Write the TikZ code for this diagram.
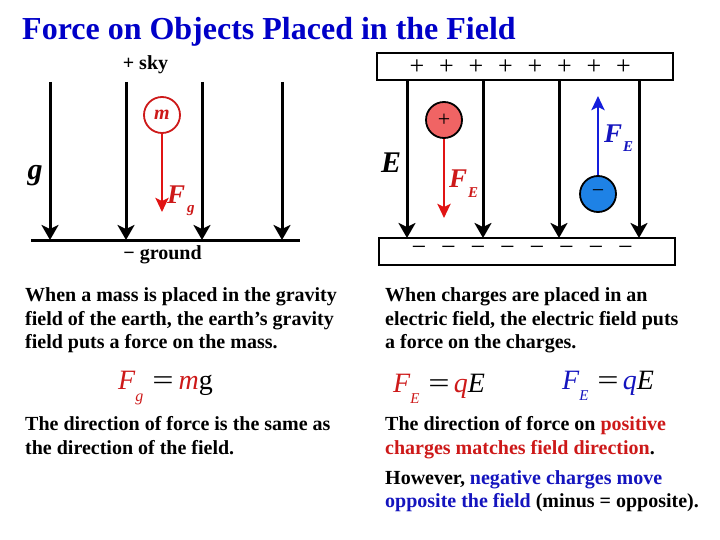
\documentclass[tikz,border=0pt]{standalone}
\usepackage{fontspec}
\usepackage{graphicx}
\setmainfont{Liberation Serif}
\usetikzlibrary{arrows.meta}
\definecolor{titleblue}{RGB}{0,0,200}
\definecolor{fred}{RGB}{205,25,25}
\definecolor{fblue}{RGB}{20,20,190}
\definecolor{posfill}{RGB}{240,100,100}
\definecolor{negfill}{RGB}{30,130,230}
\definecolor{arrred}{RGB}{225,20,20}
\definecolor{arrblue}{RGB}{20,30,220}
\newcommand{\bigeq}{\scalebox{1.35}[1.0]{=}}
\tikzset{
  txt/.style={anchor=base west, inner sep=0pt, font=\fontsize{20}{23}\selectfont\bfseries},
  fieldline/.style={line width=3pt, -{Stealth[length=15pt,width=17pt,inset=4pt]}},
  redforce/.style={line width=2.8pt, draw=arrred, -{Stealth[length=14pt,width=13pt,inset=3pt]}},
  blueforce/.style={line width=2.8pt, draw=arrblue, -{Stealth[length=14pt,width=13pt,inset=3pt]}},
  plate/.style={draw, line width=2pt, fill=white, minimum width=296pt, minimum height=27pt, inner sep=0pt},
  charge/.style={circle, draw, line width=1.8pt, minimum size=36pt, inner sep=0pt},
  sign/.style={inner sep=0pt, font=\fontsize{26}{28}\selectfont},
  formula/.style={anchor=base west, inner sep=0pt, font=\fontsize{28}{30}\selectfont},
}
\begin{document}
\begin{tikzpicture}[x=1pt,y=-1pt]
\useasboundingbox (0,0) rectangle (720,540);

% title
\node[anchor=base west, inner sep=0pt, text=titleblue, font=\fontsize{32}{36}\selectfont\bfseries] (title) at (22,40) {Force on Objects Placed in the Field};

% ---------- gravity diagram ----------
\node[anchor=base, inner sep=0pt, font=\fontsize{20}{22}\selectfont\bfseries] (sky) at (145.5,70) {+ sky};
\node[anchor=base, inner sep=0pt, font=\fontsize{20}{22}\selectfont\bfseries] (ground) at (162.5,259) {− ground};
\coordinate (gl) at (31,240);
\coordinate (gr) at (300,240);
\draw[line width=3pt] (gl) -- (gr);
\foreach \x [count=\i] in {50,126,202,282}{
  \coordinate (gt\i) at (\x,82);
  \coordinate (gb\i) at (\x,240);
  \draw[fieldline] (gt\i) -- (gb\i);
}
\node[inner sep=0pt, font=\fontsize{30}{32}\selectfont\bfseries\itshape] (glab) at (35,176) {g};
\node[charge, draw=fred, fill=white, minimum size=36pt] (mass) at (162,115) {\textcolor{fred}{\fontsize{20}{22}\selectfont\bfseries\itshape m}};
\coordinate (fgend) at (162,212);
\draw[redforce] (mass) -- (fgend);
\node[anchor=base west, inner sep=0pt, text=fred, font=\fontsize{27}{30}\selectfont\bfseries\itshape] (fglab) at (167,204) {F};
\node[anchor=base west, inner sep=0pt, text=fred, font=\fontsize{15}{16}\selectfont\bfseries\itshape] (fgsub) at (187,213) {g};

% ---------- electric field diagram ----------
\node[plate] (ptop) at (525,66.5) {};
\node[plate] (pbot) at (527,251.5) {};
\foreach \x [count=\i] in {417,446.5,476,505.5,535,564.5,594,623.5}{
  \node[sign] (plus\i) at (\x,67) {+};
  \node[sign] (minus\i) at (\x+2,251) {−};
}
\foreach \x [count=\i] in {407,483,559,639}{
  \coordinate (et\i) at (\x,80);
  \coordinate (eb\i) at (\x,238);
  \draw[fieldline] (et\i) -- (eb\i);
}
\node[inner sep=0pt, font=\fontsize{30}{32}\selectfont\bfseries\itshape] (elab) at (391,163) {E};
\node[charge, fill=posfill] (pos) at (444,120) {\fontsize{22}{24}\selectfont +};
\coordinate (fpend) at (444,218);
\draw[redforce] (pos) -- (fpend);
\node[anchor=base west, inner sep=0pt, text=fred, font=\fontsize{27}{30}\selectfont\bfseries\itshape] (fplab) at (449,188) {F};
\node[anchor=base west, inner sep=0pt, text=fred, font=\fontsize{15}{16}\selectfont\bfseries\itshape] (fpsub) at (468,197) {E};
\node[charge, fill=negfill] (neg) at (598,194) {\fontsize{22}{24}\selectfont −};
\coordinate (fnend) at (598,96);
\draw[blueforce] (neg) -- (fnend);
\node[anchor=base west, inner sep=0pt, text=fblue, font=\fontsize{27}{30}\selectfont\bfseries\itshape] (fnlab) at (604,143) {F};
\node[anchor=base west, inner sep=0pt, text=fblue, font=\fontsize{15}{16}\selectfont\bfseries\itshape] (fnsub) at (623,152) {E};

% ---------- paragraphs ----------
\node[txt] (l1) at (25,301) {When a mass is placed in the gravity};
\node[txt] (l2) at (25,325) {field of the earth, the earth’s gravity};
\node[txt] (l3) at (25,348) {field puts a force on the mass.};
\node[txt] (l4) at (25,430) {The direction of force is the same as};
\node[txt] (l5) at (25,454) {the direction of the field.};

\node[txt] (r1) at (385,301) {When charges are placed in an};
\node[txt] (r2) at (385,325) {electric field, the electric field puts};
\node[txt] (r3) at (385,348) {a force on the charges.};
\node[txt] (r4) at (385,430) {The direction of force on \textcolor{fred}{positive}};
\node[txt] (r5) at (385,454) {\textcolor{fred}{charges matches field direction}.};
\node[txt] (r6) at (385,484) {However, \textcolor{fblue}{negative charges move}};
\node[txt] (r7) at (385,507) {\textcolor{fblue}{opposite the field} (minus = opposite).};

% ---------- formulas ----------
\node[formula] (eqg) at (118,389)
  {\textcolor{fred}{\itshape F\raisebox{-12pt}{\fontsize{16}{17}\selectfont g}}\hspace{9pt}\bigeq\hspace{5pt}\textcolor{fred}{\itshape m}g};
\node[formula] (eqe1) at (393,392)
  {\textcolor{fred}{\itshape F\raisebox{-11pt}{\fontsize{15}{16}\selectfont E}}\hspace{9pt}\bigeq\hspace{4pt}\textcolor{fred}{\itshape q}{\itshape E}};
\node[formula] (eqe2) at (562,389)
  {\textcolor{fblue}{\itshape F\raisebox{-11pt}{\fontsize{15}{16}\selectfont E}}\hspace{9pt}\bigeq\hspace{4pt}\textcolor{fblue}{\itshape q}{\itshape E}};
\end{tikzpicture}
\end{document}
